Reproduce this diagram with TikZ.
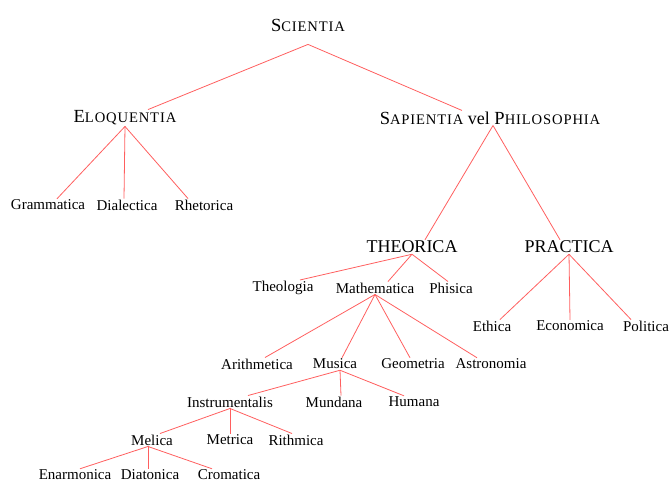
\documentclass[tikz,border=0pt]{standalone}
\usepackage{fontspec}
\setmainfont{Liberation Serif}
\usepackage{tikz}
\usetikzlibrary{positioning,calc}
\definecolor{treered}{RGB}{255,95,95}
\newcommand{\capsc}[2]{{\fontsize{18.5}{21}\selectfont #1}{\fontsize{14.6}{17}\selectfont\addfontfeature{LetterSpace=6}#2}}
\tikzset{
    x=1pt,y=-1pt,semithick,
    leaf/.style ={inner sep=1pt, font=\fontsize{15}{18}\selectfont},
    branch/.style ={inner sep=1pt, font=\fontsize{18}{21}\selectfont},
    conn/.style = {draw=treered, line width=0.8pt}
}
\begin{document}
\begin{tikzpicture}
    \useasboundingbox (0,0) rectangle (671,484);
    \node[branch] (sci) at (308,25) {\capsc{S}{CIENTIA}};
    \node[branch] (elo) at (125,118) {\capsc{E}{LOQUENTIA}};
    \node[branch] (sap) at (490,118) {\capsc{S}{APIENTIA} vel \capsc{P}{HILOSOPHIA}};

    \node[leaf] (gra) at (48,205) {Grammatica};
    \node[leaf] (dia) at (127,205) {Dialectica};
    \node[leaf] (rhe) at (204,205) {Rhetorica};

    \node[branch] (the) at (412,247) {THEORICA};
    \node[branch] (pra) at (569,247) {PRACTICA};

    \node[leaf] (teo) at (283,288) {Theologia};
    \node[leaf] (mat) at (375,288) {Mathematica};
    \node[leaf] (phi) at (451,288) {Phisica};

    \node[leaf] (eth) at (492,326) {Ethica};
    \node[leaf] (eco) at (570,326) {Economica};
    \node[leaf] (pol) at (646,326) {Politica};

    \node[leaf] (ari) at (257,364) {Arithmetica};
    \node[leaf] (mus) at (335,364) {Musica};
    \node[leaf] (geo) at (413,364) {Geometria};
    \node[leaf] (ast) at (491,364) {Astronomia};

    \node[leaf] (ins) at (230,402) {Instrumentalis};
    \node[leaf] (mun) at (334,402) {Mundana};
    \node[leaf] (hum) at (414,402) {Humana};

    \node[leaf] (mel) at (152,440) {Melica};
    \node[leaf] (met) at (230,440) {Metrica};
    \node[leaf] (rit) at (296,440) {Rithmica};

    \node[leaf] (ena) at (75,475) {Enarmonica};
    \node[leaf] (dit) at (150,475) {Diatonica};
    \node[leaf] (cro) at (229,475) {Cromatica};

    % first level
    \path[conn] ([yshift=-12]sci.south) -- ([xshift=23]elo.north);
    \path[conn] ([yshift=-12]sci.south) -- ([xshift=-28]sap.north);
    % eloquentia
    \path[conn] (elo.south) -- ([xshift=9]gra.north);
    \path[conn] (elo.south) -- ([xshift=-3]dia.north);
    \path[conn] (elo.south) -- ([xshift=-16]rhe.north);
    % philosophia
    \path[conn] ([xshift=3]sap.south) -- ([xshift=13]the.north);
    \path[conn] ([xshift=3]sap.south) -- ([xshift=-9]pra.north);
    \path[conn] (the.south) -- ([xshift=17]teo.north);
    \path[conn] (the.south) -- ([xshift=13]mat.north);
    \path[conn] (the.south) -- ([xshift=-3]phi.north);
    \path[conn] (pra.south) -- ([xshift=8]eth.north);
    \path[conn] (pra.south) -- (eco.north);
    \path[conn] (pra.south) -- ([xshift=-15]pol.north);
    % mathematica
    \path[conn] (mat.south) -- ([xshift=8]ari.north);
    \path[conn] (mat.south) -- ([xshift=7]mus.north);
    \path[conn] (mat.south) -- ([xshift=-3]geo.north);
    \path[conn] (mat.south) -- ([xshift=-14]ast.north);
    % musica
    \path[conn] ([xshift=5]mus.south) -- ([xshift=18]ins.north);
    \path[conn] ([xshift=5]mus.south) -- ([xshift=7]mun.north);
    \path[conn] ([xshift=5]mus.south) -- ([xshift=-10]hum.north);
    \path[conn] (ins.south) -- ([xshift=8]mel.north);
    \path[conn] (ins.south) -- (met.north);
    \path[conn] (ins.south) -- ([xshift=-4]rit.north);
    \path[conn] ([xshift=-4]mel.south) -- ([xshift=5]ena.north);
    \path[conn] ([xshift=-4]mel.south) -- ([xshift=-2]dit.north);
    \path[conn] ([xshift=-4]mel.south) -- ([xshift=-17]cro.north);
\end{tikzpicture}
\end{document}
